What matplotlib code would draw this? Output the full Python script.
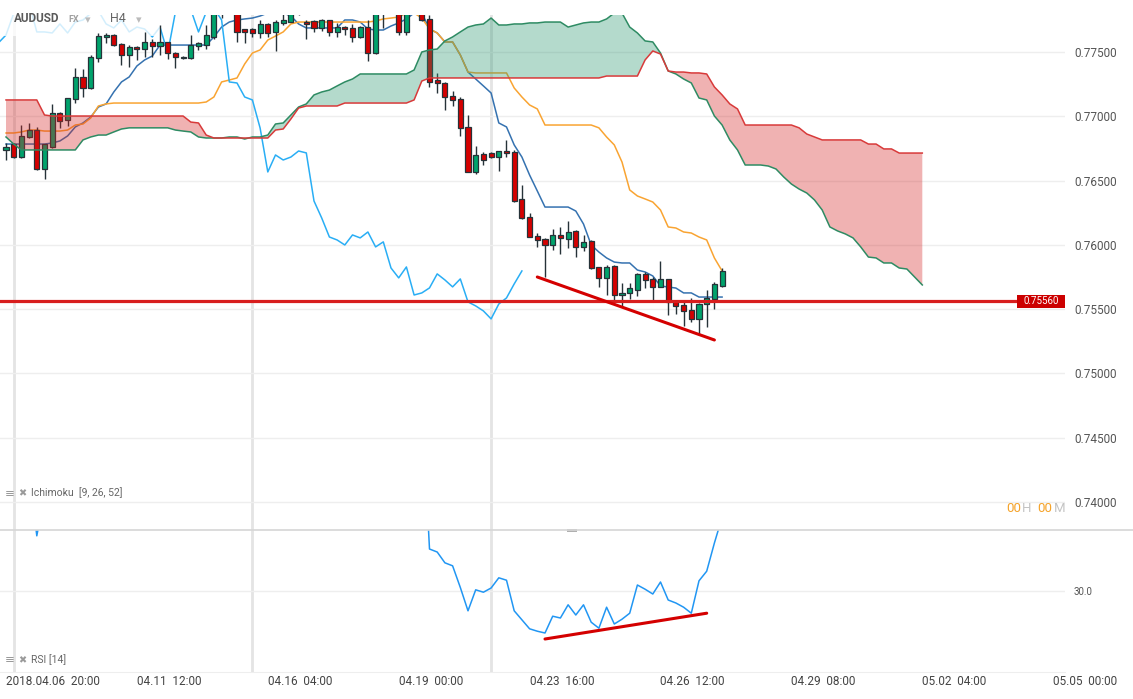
import numpy as np
import matplotlib
matplotlib.use('Agg')
import matplotlib.pyplot as plt
import matplotlib.transforms as mtransforms
from matplotlib.patches import Rectangle
from matplotlib.lines import Line2D

plt.rcParams['font.family'] = ['Roboto', 'DejaVu Sans']

# AUDUSD H4 candles, bar 0 = 2018.04.06 20:00
opens = [
    .76738, .76785, .76683, .76839, .76893, .76590, .76761, .77026, .76971, .77135,
    .77306, .77220, .77453, .77617, .77632, .77562, .77477, .77539, .77523, .77578,
    .77547, .77578, .77492, .77461, .77453, .77547, .77554, .77617, .77800, .77840,
    .77860, .77679, .77679, .77648, .77718, .77656, .77726, .77733, .77800, .77733,
    .77741, .77687, .77749, .77656, .77694, .77687, .77617, .77694, .77492, .77810,
    .77850, .77830, .77656, .77810, .77840, .77757, .77282, .77259, .77158, .77135,
    .76917, .76567, .76707, .76715, .76683, .76730, .76722, .76357, .76217, .76069,
    .76046, .75999, .76077, .76046, .76108, .75984, .76030, .75828, .75743, .75836,
    .75610, .75626, .75649, .75774, .75735, .75673, .75735, .75564, .75533, .75494,
    .75424, .75540, .75579, .75680]
highs = [
    .76792, .76792, .76932, .76948, .76917, .76785, .77096, .77033, .77142, .77376,
    .77368, .77477, .77648, .77648, .77640, .77570, .77554, .77547, .77656, .77601,
    .77710, .77578, .77500, .77469, .77632, .77578, .77710, .77830, .77860, .77920,
    .77890, .77679, .77687, .77749, .77726, .77749, .77800, .77830, .77860, .77749,
    .77749, .77757, .77749, .77726, .77702, .77718, .77702, .77749, .77830, .77880,
    .77900, .77850, .77840, .77870, .77860, .77790, .77337, .77267, .77197, .77150,
    .77010, .76769, .76722, .76722, .76730, .76816, .76738, .76466, .76248, .76093,
    .76054, .76124, .76139, .76186, .76116, .76077, .76038, .75828, .75844, .75844,
    .75704, .75704, .75781, .75789, .75750, .75875, .75735, .75564, .75572, .75587,
    .75548, .75649, .75712, .75820]
lows = [
    .76660, .76676, .76676, .76831, .76582, .76512, .76753, .76909, .76925, .77103,
    .77150, .77212, .77422, .77570, .77547, .77399, .77383, .77438, .77461, .77461,
    .77477, .77446, .77376, .77446, .77446, .77516, .77523, .77601, .77762, .77810,
    .77578, .77570, .77617, .77609, .77617, .77508, .77710, .77730, .77790, .77601,
    .77656, .77663, .77624, .77617, .77632, .77578, .77609, .77430, .77484, .77687,
    .77800, .77632, .77632, .77795, .77741, .77228, .77181, .77049, .77080, .76847,
    .76567, .76551, .76621, .76676, .76575, .76683, .76334, .76201, .76061, .75984,
    .75750, .75960, .75929, .75976, .75906, .75953, .75813, .75673, .75610, .75540,
    .75517, .75579, .75603, .75665, .75556, .75673, .75455, .75463, .75369, .75401,
    .75307, .75362, .75502, .75673]
closes = [
    .76761, .76683, .76847, .76893, .76590, .76785, .77026, .76963, .77142, .77306,
    .77220, .77461, .77624, .77632, .77554, .77477, .77539, .77523, .77578, .77547,
    .77578, .77492, .77461, .77453, .77554, .77570, .77632, .77800, .77840, .77880,
    .77656, .77656, .77648, .77718, .77648, .77733, .77749, .77800, .77820, .77718,
    .77687, .77749, .77656, .77694, .77679, .77617, .77694, .77492, .77810, .77850,
    .77830, .77656, .77810, .77840, .77749, .77267, .77259, .77150, .77127, .76909,
    .76567, .76699, .76660, .76683, .76730, .76715, .76341, .76209, .76061, .76038,
    .75999, .76077, .76054, .76100, .75984, .76023, .75820, .75743, .75828, .75610,
    .75626, .75665, .75774, .75727, .75673, .75735, .75556, .75525, .75486, .75424,
    .75540, .75587, .75696, .75797]

# Ichimoku [9, 26, 52]
tenkan = [
    .76784, .76784, .76784, .76784, .76784, .76784, .76792, .76808, .76847, .76917,
    .76948, .76994, .77072, .77096, .77189, .77267, .77306, .77391, .77438, .77469,
    .77554, .77554, .77554, .77554, .77554, .77554, .77554, .77617, .77694, .77733,
    .77749, .77757, .77764, .77780, .77803, .77803, .77803, .77780, .77718, .77687,
    .77687, .77687, .77687, .77687, .77749, .77749, .77733, .77679, .77671, .77671,
    .77702, .77726, .77757, .77803, .77803, .77679, .77648, .77578, .77578, .77477,
    .77344, .77290, .77236, .77181, .76948, .76917, .76777, .76683, .76543, .76419,
    .76294, .76294, .76294, .76294, .76263, .76162, .75999, .75944, .75898, .75866,
    .75859, .75859, .75804, .75789, .75758, .75680, .75672, .75664, .75626, .75626,
    .75594, .75594, .75594, .75594]
kijun = [
    .76870, .76870, .76878, .76893, .76893, .76885, .76885, .76885, .76893, .76932,
    .76940, .76987, .77080, .77096, .77103, .77103, .77103, .77103, .77103, .77103,
    .77103, .77103, .77103, .77103, .77103, .77103, .77111, .77150, .77267, .77282,
    .77298, .77407, .77492, .77516, .77593, .77624, .77656, .77718, .77733, .77733,
    .77733, .77733, .77733, .77733, .77733, .77733, .77733, .77733, .77741, .77757,
    .77764, .77772, .77803, .77803, .77764, .77679, .77648, .77578, .77578, .77477,
    .77344, .77337, .77337, .77337, .77337, .77337, .77220, .77150, .77088, .77057,
    .76932, .76932, .76932, .76932, .76932, .76932, .76932, .76910, .76839, .76777,
    .76644, .76427, .76380, .76357, .76333, .76271, .76139, .76131, .76100, .76092,
    .76061, .76038, .75898, .75797]
# senkou spans, already displaced 26 bars ahead (bars 0..119)
senkou_a = [
    .76839, .76784, .76738, .76738, .76738, .76738, .76738, .76738, .76738, .76738,
    .76816, .76839, .76854, .76854, .76878, .76901, .76910, .76910, .76910, .76910,
    .76910, .76910, .76893, .76885, .76878, .76839, .76831, .76831, .76831, .76839,
    .76839, .76823, .76839, .76839, .76854, .76940, .76948, .77010, .77072, .77096,
    .77166, .77189, .77204, .77236, .77267, .77290, .77329, .77329, .77329, .77329,
    .77329, .77329, .77329, .77360, .77500, .77516, .77523, .77586, .77617, .77656,
    .77694, .77710, .77718, .77764, .77710, .77710, .77718, .77718, .77726, .77726,
    .77733, .77733, .77733, .77694, .77710, .77726, .77733, .77733, .77757, .77803,
    .77803, .77694, .77648, .77586, .77578, .77492, .77352, .77329, .77290, .77259,
    .77142, .77127, .77002, .76932, .76816, .76738, .76621, .76621, .76621, .76613,
    .76590, .76528, .76473, .76434, .76403, .76349, .76271, .76139, .76108, .76085,
    .76054, .75984, .75905, .75898, .75859, .75859, .75820, .75812, .75750, .75688]
senkou_b = [
    .77127, .77127, .77127, .77127, .77127, .77010, .77002, .77002, .77002, .77002,
    .77002, .77002, .77002, .77002, .77002, .77002, .77002, .77002, .77002, .77002,
    .77002, .77002, .77002, .77002, .76955, .76948, .76854, .76831, .76831, .76831,
    .76831, .76831, .76831, .76831, .76831, .76893, .76901, .76979, .77064, .77080,
    .77080, .77080, .77080, .77080, .77103, .77103, .77103, .77103, .77103, .77103,
    .77103, .77103, .77103, .77127, .77274, .77298, .77298, .77298, .77298, .77298,
    .77298, .77298, .77298, .77298, .77298, .77298, .77298, .77298, .77298, .77298,
    .77298, .77298, .77298, .77298, .77298, .77298, .77298, .77298, .77313, .77313,
    .77313, .77313, .77313, .77438, .77508, .77484, .77352, .77344, .77344, .77337,
    .77337, .77329, .77228, .77166, .77096, .77057, .76932, .76932, .76932, .76932,
    .76932, .76932, .76932, .76910, .76862, .76839, .76816, .76816, .76816, .76816,
    .76816, .76816, .76784, .76784, .76746, .76746, .76714, .76714, .76714, .76714]
chikou_shift = 26

# RSI [14]
rsi = [
    47, 44, 49, 50, 39.2, 46, 56, 54, 58, 64,
    61, 67, 72, 72, 68, 63, 65, 63, 66, 64,
    66, 62, 60, 59, 63, 64, 67, 70, 71, 72,
    63, 62, 61, 64, 61, 64, 65, 67, 68, 62,
    61, 64, 59, 61, 60, 57, 61, 52, 66, 68,
    69, 60, 65, 67, 62, 37.0, 36.5, 34.7, 34.2, 30.6,
    26.7, 30.2, 29.8, 30.5, 32.2, 31.8, 26.7, 25.2, 23.7, 23.3,
    23.0, 25.8, 25.5, 27.7, 26.0, 27.7, 24.8, 23.8, 27.3, 24.5,
    25.3, 26.3, 31.0, 30.3, 29.5, 31.5, 28.5, 28.0, 27.3, 26.3,
    31.7, 33.3, 38.0, 42.3]

support_level = 0.7556
price_trend_x = [69, 92]
price_trend_y = [0.75750, 0.75260]
rsi_trend_x = [70, 91]
rsi_trend_y = [22.0, 26.3]
week_starts = [1, 32, 63]
tick_bars = [0, 17, 34, 51, 68, 85, 102, 119, 136]
tick_labels = ['2018.04.06  20:00', '04.11  12:00', '04.16  04:00', '04.19  00:00',
               '04.23  16:00', '04.26  12:00', '04.29  08:00', '05.02  04:00',
               '05.05  00:00']
price_ticks = [0.740, 0.745, 0.750, 0.755, 0.760, 0.765, 0.770, 0.775]
rsi_ticks = [30]

W, H = 1133, 699
fig = plt.figure(figsize=(W / 100, H / 100), dpi=100)


def fig_box(left, top, right, bottom):
    """pixel box -> figure fraction rect"""
    return [left / W, 1 - bottom / H, (right - left) / W, (bottom - top) / H]


ax = fig.add_axes(fig_box(0, 15, 1065, 530))
ax_rsi = fig.add_axes(fig_box(0, 530, 1065, 672), sharex=ax)

bar_px, first_px = 7.7, 6
ax.set_xlim(-first_px / bar_px, (1065 - first_px) / bar_px)
ax.set_ylim(0.737821, 0.777877)
ax_rsi.set_ylim(16.5, 40.17)

for a in (ax, ax_rsi):
    for s in a.spines.values():
        s.set_visible(False)
    for b in week_starts:
        a.axvline(b, color='#e4e4e4', lw=2, zorder=0.5)
    a.grid(axis='y', color='#eeeeee', lw=1)
    a.set_axisbelow(True)
    a.yaxis.tick_right()
    a.tick_params(axis='y', length=0, pad=6.5, labelcolor='#555555')
ax_rsi.spines['bottom'].set_visible(True)
ax_rsi.spines['bottom'].set_color('#eeeeee')

ax.set_yticks(price_ticks)
ax.set_yticklabels([f'{v:.5f}' for v in price_ticks])
ax.tick_params(axis='y', labelsize=8.5)
ax.tick_params(axis='x', bottom=False, labelbottom=False)

# candles
x = np.arange(len(closes))
o, hi, lo, c = (np.array(v) for v in (opens, highs, lows, closes))
body_col = np.where(c >= o, '#00a36c', '#d50000')
ax.vlines(x, lo, hi, color='#263238', lw=1.0, zorder=3)
ax.bar(x, np.maximum(np.abs(c - o), 0.00003), bottom=np.minimum(o, c), width=0.66,
       color=body_col, edgecolor='#263238', linewidth=0.9, zorder=3.1)

# ichimoku lines and cloud
ax.plot(x, tenkan, color='#3572b0', lw=1.1, zorder=2.5)
ax.plot(x, kijun, color='#f9a432', lw=1.1, zorder=2.5)
ax.plot(x - chikou_shift, closes, color='#29aef5', lw=1.1, zorder=2.5)

xc = np.arange(len(senkou_a))
sa, sb = np.array(senkou_a), np.array(senkou_b)
ax.fill_between(xc, sa, sb, where=sa >= sb, interpolate=True, color='#29956f',
                alpha=0.35, lw=0, zorder=3.5)
ax.fill_between(xc, sa, sb, where=sa < sb, interpolate=True, color='#d42323',
                alpha=0.35, lw=0, zorder=3.5)
ax.plot(xc, sa, color='#2e8b63', lw=1.1, zorder=3.6)
ax.plot(xc, sb, color='#d83a3a', lw=1.1, zorder=3.6)

# washed-out strip behind the symbol header
ax.add_patch(Rectangle((0, 1 - 36 / H), 160 / W, 36 / H, transform=fig.transFigure,
                       fc='white', ec='none', alpha=0.8, zorder=2.8))

# support line, price tag and divergence lines
ax.axhline(support_level, xmin=0, xmax=1017 / 1065, color='#d81e1e', lw=2.3, zorder=5)
ax.plot(price_trend_x, price_trend_y, color='#d40000', lw=2.2, zorder=5,
        solid_capstyle='round')
trans = mtransforms.blended_transform_factory(ax.transAxes, ax.transData)
half_h = 6.5 * (0.777877 - 0.737821) / 515
ax.add_patch(Rectangle((1017 / 1065, support_level - half_h), 48 / 1065, 2 * half_h,
                       transform=trans, fc='#cc0000', ec='none', clip_on=False, zorder=6))
ax.text(1041 / 1065, support_level, f'{support_level:.5f}', transform=trans,
        ha='center', va='center', color='white', fontsize=7, zorder=7, clip_on=False)

# RSI panel
ax_rsi.plot(x, rsi, color='#2196f3', lw=1.1, zorder=3)
ax_rsi.plot(rsi_trend_x, rsi_trend_y, color='#d40000', lw=2.2, zorder=5,
            solid_capstyle='round')
ax_rsi.set_yticks(rsi_ticks)
ax_rsi.set_yticklabels([f'{v:.1f}' for v in rsi_ticks])
ax_rsi.tick_params(axis='y', labelsize=7)
ax_rsi.set_xticks(tick_bars)
ax_rsi.set_xticklabels(tick_labels, ha='left')
ax_rsi.tick_params(axis='x', length=0, pad=2.5, labelsize=8.5, labelcolor='#444444')

# panel separator and its handle
fig.add_artist(Line2D([0, 1], [1 - 530 / H] * 2, color='#d6d6d6', lw=1.2))
fig.add_artist(Rectangle((567 / W, 1 - 532 / H), 10 / W, 3 / H, fc='#b0b0b0', ec='none'))

# header and panel captions
fig.text(14 / W, 1 - 19 / H, 'AUDUSD', fontsize=8.5, fontweight='bold', color='#5a5a5a', va='center')
fig.text(68 / W, 1 - 19 / H, 'FX', fontsize=6.5, fontweight='bold', color='#a0a0a0', va='center')
fig.text(85 / W, 1 - 20 / H, '▾', fontsize=8, color='#bbbbbb', va='center')
fig.text(110 / W, 1 - 19 / H, 'H4', fontsize=9, color='#666666', va='center')
fig.text(136 / W, 1 - 20 / H, '▾', fontsize=8, color='#bbbbbb', va='center')
for y_px, caption in ((493, 'Ichimoku  [9, 26, 52]'), (660, 'RSI [14]')):
    fig.text(5 / W, 1 - y_px / H, '≡', fontsize=8.5, color='#9a9a9a', va='center')
    fig.text(18 / W, 1 - y_px / H, '✖', fontsize=7, color='#9a9a9a', va='center')
    fig.text(31 / W, 1 - y_px / H, caption, fontsize=7.5, color='#666666', va='center')

# bar countdown
for x_px, part, col in ((1006, '00', '#f5a32a'), (1022, 'H', '#c4c4c4'),
                        (1037, '00', '#f5a32a'), (1054, 'M', '#c4c4c4')):
    fig.text(x_px / W, 1 - 509 / H, part, fontsize=9.5, color=col, va='center')

fig.savefig('out.png', dpi=100)
plt.close(fig)
